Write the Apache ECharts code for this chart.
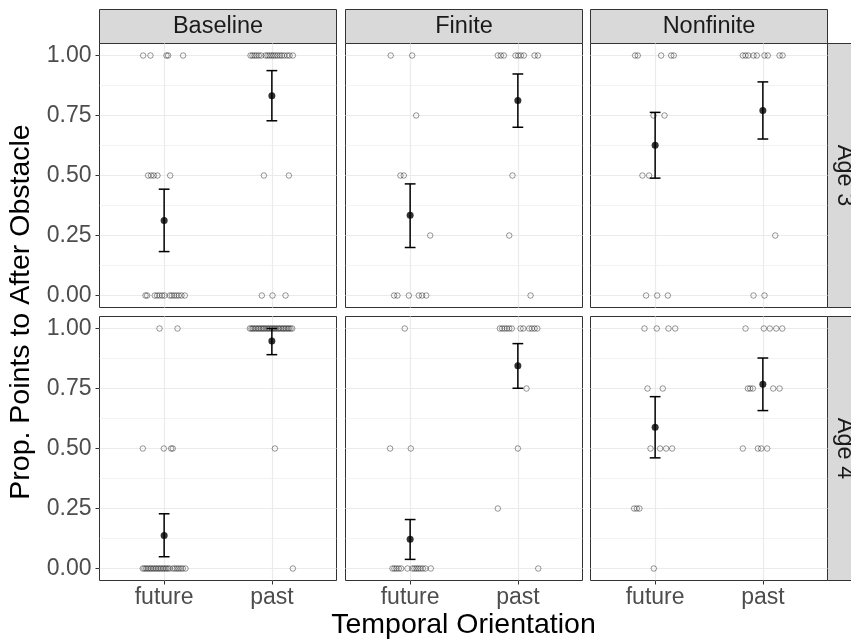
<!DOCTYPE html>
<html>
<head>
<meta charset="utf-8">
<script src="https://cdn.jsdelivr.net/npm/echarts@6/dist/echarts.min.js"></script>
<style>
  html, body { margin: 0; padding: 0; background: #fff; }
  #chart { width: 851px; height: 641px; }
</style>
</head>
<body>
<div id="chart"></div>
<script>
// categories / facets
const conditions = ['future', 'past'];
const facets = ['Baseline', 'Finite', 'Nonfinite'];
const ages = ['Age 3', 'Age 4'];
const xTicks = [1, 2];
const yTicks = [0, 0.25, 0.5, 0.75, 1];
const yMinor = [0.125, 0.375, 0.625, 0.875];

// jittered raw points [x, y]  (x: 1 = future, 2 = past)
const baselineAge3 = [
  [0.805, 1], [0.873, 1], [1.022, 1], [1.037, 1], [1.176, 1],
  [0.851, 0.5], [0.879, 0.5], [0.904, 0.5], [0.938, 0.5], [1.056, 0.5],
  [0.827, 0], [0.842, 0], [0.913, 0], [0.935, 0], [0.957, 0], [0.981, 0], [1.003, 0],
  [1.053, 0], [1.071, 0], [1.093, 0], [1.115, 0], [1.136, 0], [1.161, 0], [1.192, 0],
  [1.802, 1], [1.820, 1], [1.839, 1], [1.858, 1], [1.879, 1], [1.901, 1], [1.941, 1],
  [1.960, 1], [1.978, 1], [1.997, 1], [2.015, 1], [2.034, 1], [2.053, 1], [2.074, 1],
  [2.093, 1], [2.115, 1], [2.142, 1], [2.164, 1], [2.195, 1],
  [1.926, 0.5], [2.158, 0.5],
  [1.907, 0], [2.006, 0], [2.127, 0]
];
const finiteAge3 = [
  [0.820, 1], [1.019, 1],
  [1.056, 0.75],
  [0.910, 0.5], [0.941, 0.5],
  [1.186, 0.25],
  [0.851, 0], [0.882, 0], [0.988, 0], [1.080, 0], [1.111, 0], [1.149, 0],
  [1.814, 1], [1.842, 1], [1.870, 1], [1.978, 1], [2.003, 1], [2.028, 1], [2.056, 1],
  [2.155, 1], [2.186, 1],
  [1.950, 0.5],
  [1.920, 0.25],
  [2.118, 0]
];
const nonfiniteAge3 = [
  [0.814, 1], [0.839, 1], [1.056, 1], [1.149, 1], [1.173, 1],
  [0.985, 0.75], [1.087, 0.75],
  [0.882, 0.5], [0.944, 0.5],
  [0.916, 0], [1.019, 0], [1.118, 0],
  [1.814, 1], [1.839, 1], [1.864, 1], [1.913, 1], [1.944, 1], [2.015, 1], [2.046, 1],
  [2.155, 1], [2.183, 1],
  [2.115, 0.25],
  [1.913, 0], [2.015, 0]
];
const baselineAge4 = [
  [0.957, 1], [1.124, 1],
  [0.802, 0.5], [0.997, 0.5], [1.065, 0.5], [1.080, 0.5],
  [0.802, 0], [0.817, 0], [0.833, 0], [0.848, 0], [0.864, 0], [0.879, 0], [0.895, 0],
  [0.910, 0], [0.926, 0], [0.941, 0], [0.957, 0], [0.972, 0], [0.988, 0], [1.003, 0],
  [1.019, 0], [1.034, 0], [1.050, 0], [1.080, 0], [1.099, 0], [1.118, 0], [1.136, 0],
  [1.155, 0], [1.173, 0], [1.198, 0],
  [1.796, 1], [1.811, 1], [1.824, 1], [1.839, 1], [1.854, 1], [1.870, 1], [1.882, 1],
  [1.898, 1], [1.913, 1], [1.926, 1], [1.941, 1], [1.957, 1], [1.969, 1], [1.985, 1],
  [2.000, 1], [2.015, 1], [2.028, 1], [2.043, 1], [2.059, 1], [2.071, 1], [2.087, 1],
  [2.102, 1], [2.115, 1], [2.130, 1], [2.146, 1], [2.158, 1], [2.173, 1], [2.189, 1],
  [2.028, 0.5],
  [2.195, 0]
];
const finiteAge4 = [
  [0.950, 1],
  [0.814, 0.5], [1.006, 0.5],
  [0.836, 0], [0.854, 0], [0.873, 0], [0.895, 0], [0.916, 0], [0.975, 0], [1.022, 0],
  [1.040, 0], [1.059, 0], [1.077, 0], [1.096, 0], [1.118, 0], [1.142, 0], [1.192, 0],
  [1.833, 1], [1.854, 1], [1.876, 1], [1.898, 1], [1.920, 1], [1.944, 1], [2.025, 1],
  [2.050, 1], [2.105, 1], [2.130, 1], [2.155, 1], [2.180, 1],
  [2.080, 0.75],
  [2.000, 0.5],
  [1.814, 0.25],
  [2.189, 0]
];
const nonfiniteAge4 = [
  [0.901, 1], [1.015, 1], [1.124, 1], [1.186, 1],
  [0.929, 0.75], [1.071, 0.75],
  [0.957, 0.5], [1.046, 0.5], [1.102, 0.5], [1.158, 0.5],
  [0.805, 0.25], [0.830, 0.25], [0.854, 0.25],
  [0.988, 0],
  [1.839, 1], [2.009, 1], [2.065, 1], [2.124, 1], [2.180, 1],
  [1.861, 0.75], [1.882, 0.75], [1.907, 0.75], [2.096, 0.75], [2.155, 0.75],
  [1.814, 0.5], [1.954, 0.5], [1.985, 0.5], [2.040, 0.5]
];

// means and error bars per facet: [future, past]
const meanAge3 = [[0.313, 0.832], [0.334, 0.813], [0.626, 0.771]];
const lowerAge3 = [[0.183, 0.728], [0.200, 0.701], [0.489, 0.652]];
const upperAge3 = [[0.443, 0.937], [0.465, 0.923], [0.763, 0.890]];
const meanAge4 = [[0.138, 0.948], [0.122, 0.845], [0.589, 0.768]];
const lowerAge4 = [[0.049, 0.891], [0.038, 0.751], [0.461, 0.658]];
const upperAge4 = [[0.228, 1.000], [0.204, 0.937], [0.716, 0.877]];

const rawPoints = [
  [baselineAge3, finiteAge3, nonfiniteAge3],
  [baselineAge4, finiteAge4, nonfiniteAge4]
];
const means = [meanAge3, meanAge4];
const lowers = [lowerAge3, lowerAge4];
const uppers = [upperAge3, upperAge4];

// layout
const FONT = 'Liberation Sans, Arial, Helvetica, sans-serif';
const colLeft = [99.5, 345.5, 590.5];
const rowTop = [43.5, 316.5];
const panelW = 237;
const panelH = 264;
const stripSize = 34;
const capHalf = 0.05;

const chart = echarts.init(document.getElementById('chart'));

const grids = [], xAxes = [], yAxes = [], yMinorAxes = [], series = [], graphics = [];

ages.forEach((age, r) => {
  facets.forEach((facet, c) => {
    const i = r * 3 + c;
    grids.push({
      left: colLeft[c], top: rowTop[r], width: panelW, height: panelH,
      show: true, borderColor: '#333', borderWidth: 1, backgroundColor: '#fff'
    });
    xAxes.push({
      type: 'value', gridIndex: i, min: 0.4, max: 2.6,
      axisLine: { show: false, onZero: false },
      axisTick: { show: r === 1, customValues: xTicks, length: 4, lineStyle: { color: '#333' } },
      axisLabel: {
        show: r === 1, customValues: xTicks, margin: 6,
        color: '#4D4D4D', fontSize: 23, fontFamily: FONT,
        formatter: v => conditions[Math.round(v) - 1]
      },
      splitLine: { show: true, lineStyle: { color: '#EBEBEB', width: 1.2 } }
    });
    yAxes.push({
      type: 'value', gridIndex: i, min: -0.05, max: 1.05,
      axisLine: { show: false, onZero: false },
      axisTick: { show: c === 0, customValues: yTicks, length: 4, lineStyle: { color: '#333' } },
      axisLabel: {
        show: c === 0, customValues: yTicks, margin: 8,
        color: '#4D4D4D', fontSize: 23, fontFamily: FONT,
        formatter: v => v.toFixed(2)
      },
      splitLine: { show: true, lineStyle: { color: '#EBEBEB', width: 1.2 } }
    });
    yMinorAxes.push({
      type: 'value', gridIndex: i, min: -0.05, max: 1.05,
      axisLine: { show: false, onZero: false },
      axisTick: { show: false, customValues: yMinor },
      axisLabel: { show: false, customValues: yMinor },
      splitLine: { show: true, lineStyle: { color: '#EBEBEB', width: 0.6 } }
    });

    series.push({
      type: 'scatter', xAxisIndex: i, yAxisIndex: i,
      data: rawPoints[r][c],
      symbol: 'circle', symbolSize: 5.5,
      itemStyle: { color: 'rgba(0,0,0,0)', borderColor: 'rgba(0,0,0,0.65)', borderWidth: 0.8 },
      z: 2, silent: true
    });
    series.push({
      type: 'custom', xAxisIndex: i, yAxisIndex: i,
      data: xTicks.map((x, k) => [x, lowers[r][c][k], uppers[r][c][k]]),
      encode: { x: 0, y: [1, 2] },
      renderItem: (params, api) => {
        const x = api.value(0);
        const lo = api.coord([x, api.value(1)]);
        const hi = api.coord([x, api.value(2)]);
        const l = api.coord([x - capHalf, 0])[0];
        const rr = api.coord([x + capHalf, 0])[0];
        const st = { stroke: '#000', lineWidth: 1.5 };
        return {
          type: 'group', children: [
            { type: 'line', shape: { x1: lo[0], y1: lo[1], x2: hi[0], y2: hi[1] }, style: st },
            { type: 'line', shape: { x1: l, y1: lo[1], x2: rr, y2: lo[1] }, style: st },
            { type: 'line', shape: { x1: l, y1: hi[1], x2: rr, y2: hi[1] }, style: st }
          ]
        };
      },
      z: 3, silent: true
    });
    series.push({
      type: 'scatter', xAxisIndex: i, yAxisIndex: i,
      data: xTicks.map((x, k) => [x, means[r][c][k]]),
      symbol: 'circle', symbolSize: 7,
      itemStyle: { color: '#000' },
      z: 4, silent: true
    });
  });
});

// facet strips
facets.forEach((facet, c) => {
  graphics.push({
    type: 'rect', shape: { x: colLeft[c], y: rowTop[0] - stripSize, width: panelW, height: stripSize },
    style: { fill: '#D9D9D9', stroke: '#333', lineWidth: 1 }
  });
  graphics.push({
    type: 'text', x: colLeft[c] + panelW / 2, y: rowTop[0] - stripSize / 2,
    style: { text: facet, fill: '#1A1A1A', font: '23.5px ' + FONT, textAlign: 'center', textVerticalAlign: 'middle' }
  });
});
ages.forEach((age, r) => {
  const x0 = colLeft[2] + panelW;
  graphics.push({
    type: 'rect', shape: { x: x0, y: rowTop[r], width: stripSize, height: panelH },
    style: { fill: '#D9D9D9', stroke: '#333', lineWidth: 1 }
  });
  graphics.push({
    type: 'text', x: x0 + stripSize / 2, y: rowTop[r] + panelH / 2, rotation: -Math.PI / 2,
    style: { text: age, fill: '#1A1A1A', font: '23.5px ' + FONT, textAlign: 'center', textVerticalAlign: 'middle' }
  });
});

// axis titles
graphics.push({
  type: 'text', x: 21, y: (rowTop[0] + rowTop[1] + panelH) / 2, rotation: Math.PI / 2,
  style: { text: 'Prop. Points to After Obstacle', fill: '#000', font: '28.5px ' + FONT, textAlign: 'center', textVerticalAlign: 'middle' }
});
graphics.push({
  type: 'text', x: (colLeft[0] + colLeft[2] + panelW) / 2, y: 625,
  style: { text: 'Temporal Orientation', fill: '#000', font: '28.5px ' + FONT, textAlign: 'center', textVerticalAlign: 'middle' }
});

chart.setOption({
  backgroundColor: '#fff',
  animation: false,
  grid: grids,
  xAxis: xAxes,
  yAxis: yAxes.concat(yMinorAxes),
  series: series,
  graphic: graphics
});
</script>
</body>
</html>
